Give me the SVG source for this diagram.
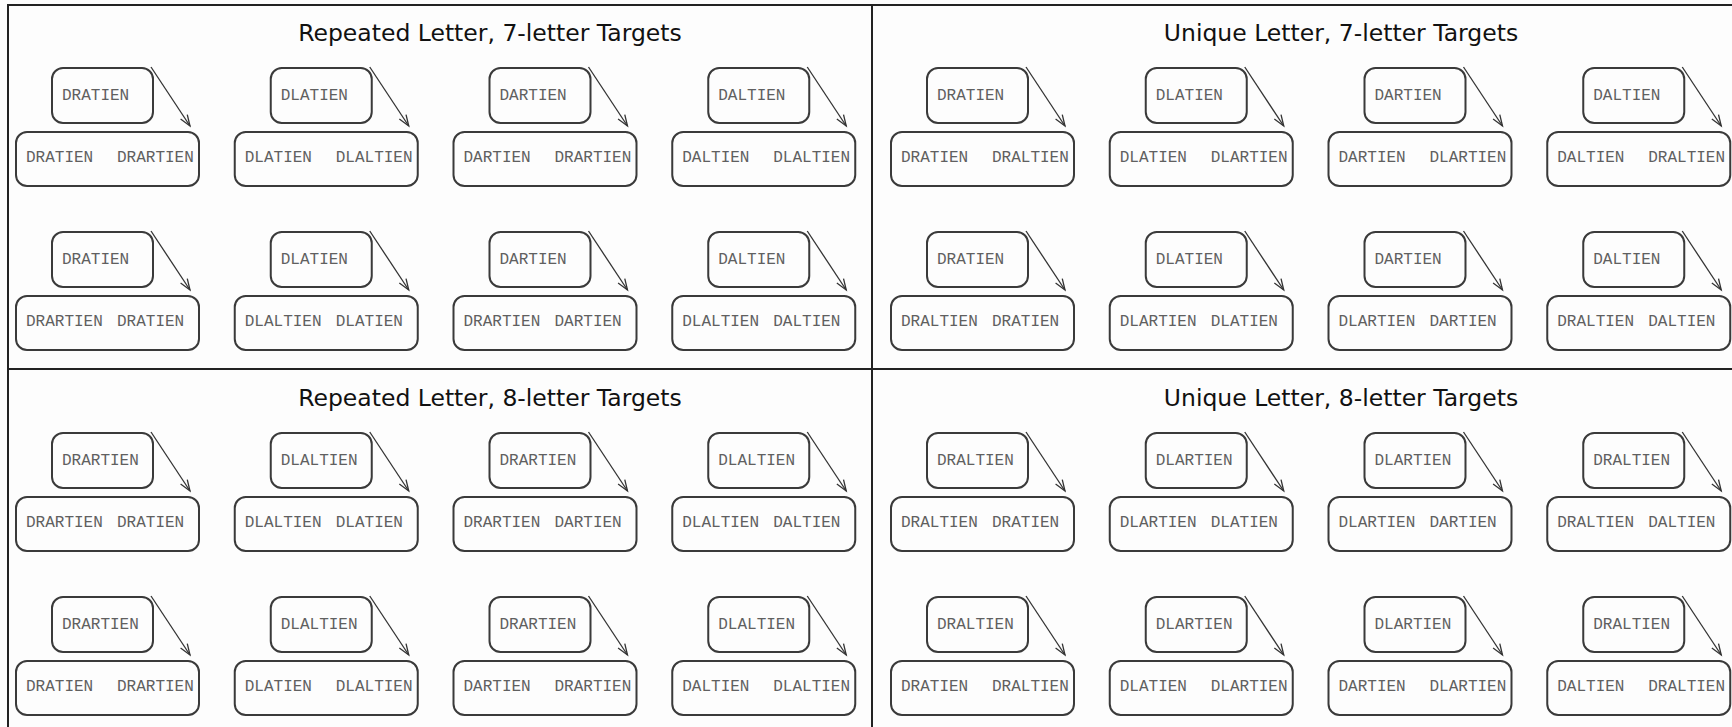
<svg xmlns="http://www.w3.org/2000/svg" width="1732" height="727" viewBox="0 0 1732 727">
<defs>
<style>
.bg{fill:#fdfdfd}
.frame{stroke:#222;stroke-width:2;fill:none}
.box{fill:none;stroke:#3a3a3a;stroke-width:2}
.lbl{font-family:"Liberation Mono","Courier New",monospace;font-size:16px;fill:#606060}
.title{font-family:"DejaVu Sans",Verdana,sans-serif;font-size:23.5px;fill:#111;text-anchor:middle}
.arr{stroke:#333;stroke-width:1.3;fill:none;marker-end:url(#ah)}
</style>
<marker id="ah" markerUnits="userSpaceOnUse" markerWidth="14" markerHeight="12" refX="12" refY="5" orient="auto" viewBox="0 0 14 12">
<path d="M1,1 L12,5 L1,9" fill="none" stroke="#333" stroke-width="1.3"/>
</marker>
</defs>
<rect class="bg" x="0" y="0" width="1732" height="727"/>
<g id="frame">
<path class="frame" d="M8,727 V5 H1732 M872,5 V727 M8,369 H1732"/>
</g>
<g id="titles">
<text class="title" x="490" y="41">Repeated Letter, 7-letter Targets</text>
<text class="title" x="1341" y="41">Unique Letter, 7-letter Targets</text>
<text class="title" x="490" y="406">Repeated Letter, 8-letter Targets</text>
<text class="title" x="1341" y="406">Unique Letter, 8-letter Targets</text>
</g>
<g id="connectors">
<line class="arr" x1="151" y1="67" x2="190" y2="126"/>
<line class="arr" x1="369.75" y1="67" x2="408.75" y2="126"/>
<line class="arr" x1="588.5" y1="67" x2="627.5" y2="126"/>
<line class="arr" x1="807.25" y1="67" x2="846.25" y2="126"/>
<line class="arr" x1="1026" y1="67" x2="1065" y2="126"/>
<line class="arr" x1="1244.75" y1="67" x2="1283.75" y2="126"/>
<line class="arr" x1="1463.5" y1="67" x2="1502.5" y2="126"/>
<line class="arr" x1="1682.25" y1="67" x2="1721.25" y2="126"/>
<line class="arr" x1="151" y1="231" x2="190" y2="290"/>
<line class="arr" x1="369.75" y1="231" x2="408.75" y2="290"/>
<line class="arr" x1="588.5" y1="231" x2="627.5" y2="290"/>
<line class="arr" x1="807.25" y1="231" x2="846.25" y2="290"/>
<line class="arr" x1="1026" y1="231" x2="1065" y2="290"/>
<line class="arr" x1="1244.75" y1="231" x2="1283.75" y2="290"/>
<line class="arr" x1="1463.5" y1="231" x2="1502.5" y2="290"/>
<line class="arr" x1="1682.25" y1="231" x2="1721.25" y2="290"/>
<line class="arr" x1="151" y1="432" x2="190" y2="491"/>
<line class="arr" x1="369.75" y1="432" x2="408.75" y2="491"/>
<line class="arr" x1="588.5" y1="432" x2="627.5" y2="491"/>
<line class="arr" x1="807.25" y1="432" x2="846.25" y2="491"/>
<line class="arr" x1="1026" y1="432" x2="1065" y2="491"/>
<line class="arr" x1="1244.75" y1="432" x2="1283.75" y2="491"/>
<line class="arr" x1="1463.5" y1="432" x2="1502.5" y2="491"/>
<line class="arr" x1="1682.25" y1="432" x2="1721.25" y2="491"/>
<line class="arr" x1="151" y1="596" x2="190" y2="655"/>
<line class="arr" x1="369.75" y1="596" x2="408.75" y2="655"/>
<line class="arr" x1="588.5" y1="596" x2="627.5" y2="655"/>
<line class="arr" x1="807.25" y1="596" x2="846.25" y2="655"/>
<line class="arr" x1="1026" y1="596" x2="1065" y2="655"/>
<line class="arr" x1="1244.75" y1="596" x2="1283.75" y2="655"/>
<line class="arr" x1="1463.5" y1="596" x2="1502.5" y2="655"/>
<line class="arr" x1="1682.25" y1="596" x2="1721.25" y2="655"/>
</g>
<!-- Row 0 -->
<g id="r0c0" transform="translate(16,68)"><g id="r0c0-src"><rect class="box" x="36" y="0" width="101" height="55" rx="11"/><text class="lbl" x="46" y="32">DRATIEN</text></g><g id="r0c0-tgt"><rect class="box" x="0" y="64" width="183" height="54" rx="11"/><text class="lbl" x="10" y="94">DRATIEN</text><text class="lbl" x="101" y="94">DRARTIEN</text></g></g>
<g id="r0c1" transform="translate(234.75,68)"><g id="r0c1-src"><rect class="box" x="36" y="0" width="101" height="55" rx="11"/><text class="lbl" x="46" y="32">DLATIEN</text></g><g id="r0c1-tgt"><rect class="box" x="0" y="64" width="183" height="54" rx="11"/><text class="lbl" x="10" y="94">DLATIEN</text><text class="lbl" x="101" y="94">DLALTIEN</text></g></g>
<g id="r0c2" transform="translate(453.5,68)"><g id="r0c2-src"><rect class="box" x="36" y="0" width="101" height="55" rx="11"/><text class="lbl" x="46" y="32">DARTIEN</text></g><g id="r0c2-tgt"><rect class="box" x="0" y="64" width="183" height="54" rx="11"/><text class="lbl" x="10" y="94">DARTIEN</text><text class="lbl" x="101" y="94">DRARTIEN</text></g></g>
<g id="r0c3" transform="translate(672.25,68)"><g id="r0c3-src"><rect class="box" x="36" y="0" width="101" height="55" rx="11"/><text class="lbl" x="46" y="32">DALTIEN</text></g><g id="r0c3-tgt"><rect class="box" x="0" y="64" width="183" height="54" rx="11"/><text class="lbl" x="10" y="94">DALTIEN</text><text class="lbl" x="101" y="94">DLALTIEN</text></g></g>
<g id="r0c4" transform="translate(891,68)"><g id="r0c4-src"><rect class="box" x="36" y="0" width="101" height="55" rx="11"/><text class="lbl" x="46" y="32">DRATIEN</text></g><g id="r0c4-tgt"><rect class="box" x="0" y="64" width="183" height="54" rx="11"/><text class="lbl" x="10" y="94">DRATIEN</text><text class="lbl" x="101" y="94">DRALTIEN</text></g></g>
<g id="r0c5" transform="translate(1109.75,68)"><g id="r0c5-src"><rect class="box" x="36" y="0" width="101" height="55" rx="11"/><text class="lbl" x="46" y="32">DLATIEN</text></g><g id="r0c5-tgt"><rect class="box" x="0" y="64" width="183" height="54" rx="11"/><text class="lbl" x="10" y="94">DLATIEN</text><text class="lbl" x="101" y="94">DLARTIEN</text></g></g>
<g id="r0c6" transform="translate(1328.5,68)"><g id="r0c6-src"><rect class="box" x="36" y="0" width="101" height="55" rx="11"/><text class="lbl" x="46" y="32">DARTIEN</text></g><g id="r0c6-tgt"><rect class="box" x="0" y="64" width="183" height="54" rx="11"/><text class="lbl" x="10" y="94">DARTIEN</text><text class="lbl" x="101" y="94">DLARTIEN</text></g></g>
<g id="r0c7" transform="translate(1547.25,68)"><g id="r0c7-src"><rect class="box" x="36" y="0" width="101" height="55" rx="11"/><text class="lbl" x="46" y="32">DALTIEN</text></g><g id="r0c7-tgt"><rect class="box" x="0" y="64" width="183" height="54" rx="11"/><text class="lbl" x="10" y="94">DALTIEN</text><text class="lbl" x="101" y="94">DRALTIEN</text></g></g>
<!-- Row 1 -->
<g id="r1c0" transform="translate(16,232)"><g id="r1c0-src"><rect class="box" x="36" y="0" width="101" height="55" rx="11"/><text class="lbl" x="46" y="32">DRATIEN</text></g><g id="r1c0-tgt"><rect class="box" x="0" y="64" width="183" height="54" rx="11"/><text class="lbl" x="10" y="94">DRARTIEN</text><text class="lbl" x="101" y="94">DRATIEN</text></g></g>
<g id="r1c1" transform="translate(234.75,232)"><g id="r1c1-src"><rect class="box" x="36" y="0" width="101" height="55" rx="11"/><text class="lbl" x="46" y="32">DLATIEN</text></g><g id="r1c1-tgt"><rect class="box" x="0" y="64" width="183" height="54" rx="11"/><text class="lbl" x="10" y="94">DLALTIEN</text><text class="lbl" x="101" y="94">DLATIEN</text></g></g>
<g id="r1c2" transform="translate(453.5,232)"><g id="r1c2-src"><rect class="box" x="36" y="0" width="101" height="55" rx="11"/><text class="lbl" x="46" y="32">DARTIEN</text></g><g id="r1c2-tgt"><rect class="box" x="0" y="64" width="183" height="54" rx="11"/><text class="lbl" x="10" y="94">DRARTIEN</text><text class="lbl" x="101" y="94">DARTIEN</text></g></g>
<g id="r1c3" transform="translate(672.25,232)"><g id="r1c3-src"><rect class="box" x="36" y="0" width="101" height="55" rx="11"/><text class="lbl" x="46" y="32">DALTIEN</text></g><g id="r1c3-tgt"><rect class="box" x="0" y="64" width="183" height="54" rx="11"/><text class="lbl" x="10" y="94">DLALTIEN</text><text class="lbl" x="101" y="94">DALTIEN</text></g></g>
<g id="r1c4" transform="translate(891,232)"><g id="r1c4-src"><rect class="box" x="36" y="0" width="101" height="55" rx="11"/><text class="lbl" x="46" y="32">DRATIEN</text></g><g id="r1c4-tgt"><rect class="box" x="0" y="64" width="183" height="54" rx="11"/><text class="lbl" x="10" y="94">DRALTIEN</text><text class="lbl" x="101" y="94">DRATIEN</text></g></g>
<g id="r1c5" transform="translate(1109.75,232)"><g id="r1c5-src"><rect class="box" x="36" y="0" width="101" height="55" rx="11"/><text class="lbl" x="46" y="32">DLATIEN</text></g><g id="r1c5-tgt"><rect class="box" x="0" y="64" width="183" height="54" rx="11"/><text class="lbl" x="10" y="94">DLARTIEN</text><text class="lbl" x="101" y="94">DLATIEN</text></g></g>
<g id="r1c6" transform="translate(1328.5,232)"><g id="r1c6-src"><rect class="box" x="36" y="0" width="101" height="55" rx="11"/><text class="lbl" x="46" y="32">DARTIEN</text></g><g id="r1c6-tgt"><rect class="box" x="0" y="64" width="183" height="54" rx="11"/><text class="lbl" x="10" y="94">DLARTIEN</text><text class="lbl" x="101" y="94">DARTIEN</text></g></g>
<g id="r1c7" transform="translate(1547.25,232)"><g id="r1c7-src"><rect class="box" x="36" y="0" width="101" height="55" rx="11"/><text class="lbl" x="46" y="32">DALTIEN</text></g><g id="r1c7-tgt"><rect class="box" x="0" y="64" width="183" height="54" rx="11"/><text class="lbl" x="10" y="94">DRALTIEN</text><text class="lbl" x="101" y="94">DALTIEN</text></g></g>
<!-- Row 2 -->
<g id="r2c0" transform="translate(16,433)"><g id="r2c0-src"><rect class="box" x="36" y="0" width="101" height="55" rx="11"/><text class="lbl" x="46" y="32">DRARTIEN</text></g><g id="r2c0-tgt"><rect class="box" x="0" y="64" width="183" height="54" rx="11"/><text class="lbl" x="10" y="94">DRARTIEN</text><text class="lbl" x="101" y="94">DRATIEN</text></g></g>
<g id="r2c1" transform="translate(234.75,433)"><g id="r2c1-src"><rect class="box" x="36" y="0" width="101" height="55" rx="11"/><text class="lbl" x="46" y="32">DLALTIEN</text></g><g id="r2c1-tgt"><rect class="box" x="0" y="64" width="183" height="54" rx="11"/><text class="lbl" x="10" y="94">DLALTIEN</text><text class="lbl" x="101" y="94">DLATIEN</text></g></g>
<g id="r2c2" transform="translate(453.5,433)"><g id="r2c2-src"><rect class="box" x="36" y="0" width="101" height="55" rx="11"/><text class="lbl" x="46" y="32">DRARTIEN</text></g><g id="r2c2-tgt"><rect class="box" x="0" y="64" width="183" height="54" rx="11"/><text class="lbl" x="10" y="94">DRARTIEN</text><text class="lbl" x="101" y="94">DARTIEN</text></g></g>
<g id="r2c3" transform="translate(672.25,433)"><g id="r2c3-src"><rect class="box" x="36" y="0" width="101" height="55" rx="11"/><text class="lbl" x="46" y="32">DLALTIEN</text></g><g id="r2c3-tgt"><rect class="box" x="0" y="64" width="183" height="54" rx="11"/><text class="lbl" x="10" y="94">DLALTIEN</text><text class="lbl" x="101" y="94">DALTIEN</text></g></g>
<g id="r2c4" transform="translate(891,433)"><g id="r2c4-src"><rect class="box" x="36" y="0" width="101" height="55" rx="11"/><text class="lbl" x="46" y="32">DRALTIEN</text></g><g id="r2c4-tgt"><rect class="box" x="0" y="64" width="183" height="54" rx="11"/><text class="lbl" x="10" y="94">DRALTIEN</text><text class="lbl" x="101" y="94">DRATIEN</text></g></g>
<g id="r2c5" transform="translate(1109.75,433)"><g id="r2c5-src"><rect class="box" x="36" y="0" width="101" height="55" rx="11"/><text class="lbl" x="46" y="32">DLARTIEN</text></g><g id="r2c5-tgt"><rect class="box" x="0" y="64" width="183" height="54" rx="11"/><text class="lbl" x="10" y="94">DLARTIEN</text><text class="lbl" x="101" y="94">DLATIEN</text></g></g>
<g id="r2c6" transform="translate(1328.5,433)"><g id="r2c6-src"><rect class="box" x="36" y="0" width="101" height="55" rx="11"/><text class="lbl" x="46" y="32">DLARTIEN</text></g><g id="r2c6-tgt"><rect class="box" x="0" y="64" width="183" height="54" rx="11"/><text class="lbl" x="10" y="94">DLARTIEN</text><text class="lbl" x="101" y="94">DARTIEN</text></g></g>
<g id="r2c7" transform="translate(1547.25,433)"><g id="r2c7-src"><rect class="box" x="36" y="0" width="101" height="55" rx="11"/><text class="lbl" x="46" y="32">DRALTIEN</text></g><g id="r2c7-tgt"><rect class="box" x="0" y="64" width="183" height="54" rx="11"/><text class="lbl" x="10" y="94">DRALTIEN</text><text class="lbl" x="101" y="94">DALTIEN</text></g></g>
<!-- Row 3 -->
<g id="r3c0" transform="translate(16,597)"><g id="r3c0-src"><rect class="box" x="36" y="0" width="101" height="55" rx="11"/><text class="lbl" x="46" y="32">DRARTIEN</text></g><g id="r3c0-tgt"><rect class="box" x="0" y="64" width="183" height="54" rx="11"/><text class="lbl" x="10" y="94">DRATIEN</text><text class="lbl" x="101" y="94">DRARTIEN</text></g></g>
<g id="r3c1" transform="translate(234.75,597)"><g id="r3c1-src"><rect class="box" x="36" y="0" width="101" height="55" rx="11"/><text class="lbl" x="46" y="32">DLALTIEN</text></g><g id="r3c1-tgt"><rect class="box" x="0" y="64" width="183" height="54" rx="11"/><text class="lbl" x="10" y="94">DLATIEN</text><text class="lbl" x="101" y="94">DLALTIEN</text></g></g>
<g id="r3c2" transform="translate(453.5,597)"><g id="r3c2-src"><rect class="box" x="36" y="0" width="101" height="55" rx="11"/><text class="lbl" x="46" y="32">DRARTIEN</text></g><g id="r3c2-tgt"><rect class="box" x="0" y="64" width="183" height="54" rx="11"/><text class="lbl" x="10" y="94">DARTIEN</text><text class="lbl" x="101" y="94">DRARTIEN</text></g></g>
<g id="r3c3" transform="translate(672.25,597)"><g id="r3c3-src"><rect class="box" x="36" y="0" width="101" height="55" rx="11"/><text class="lbl" x="46" y="32">DLALTIEN</text></g><g id="r3c3-tgt"><rect class="box" x="0" y="64" width="183" height="54" rx="11"/><text class="lbl" x="10" y="94">DALTIEN</text><text class="lbl" x="101" y="94">DLALTIEN</text></g></g>
<g id="r3c4" transform="translate(891,597)"><g id="r3c4-src"><rect class="box" x="36" y="0" width="101" height="55" rx="11"/><text class="lbl" x="46" y="32">DRALTIEN</text></g><g id="r3c4-tgt"><rect class="box" x="0" y="64" width="183" height="54" rx="11"/><text class="lbl" x="10" y="94">DRATIEN</text><text class="lbl" x="101" y="94">DRALTIEN</text></g></g>
<g id="r3c5" transform="translate(1109.75,597)"><g id="r3c5-src"><rect class="box" x="36" y="0" width="101" height="55" rx="11"/><text class="lbl" x="46" y="32">DLARTIEN</text></g><g id="r3c5-tgt"><rect class="box" x="0" y="64" width="183" height="54" rx="11"/><text class="lbl" x="10" y="94">DLATIEN</text><text class="lbl" x="101" y="94">DLARTIEN</text></g></g>
<g id="r3c6" transform="translate(1328.5,597)"><g id="r3c6-src"><rect class="box" x="36" y="0" width="101" height="55" rx="11"/><text class="lbl" x="46" y="32">DLARTIEN</text></g><g id="r3c6-tgt"><rect class="box" x="0" y="64" width="183" height="54" rx="11"/><text class="lbl" x="10" y="94">DARTIEN</text><text class="lbl" x="101" y="94">DLARTIEN</text></g></g>
<g id="r3c7" transform="translate(1547.25,597)"><g id="r3c7-src"><rect class="box" x="36" y="0" width="101" height="55" rx="11"/><text class="lbl" x="46" y="32">DRALTIEN</text></g><g id="r3c7-tgt"><rect class="box" x="0" y="64" width="183" height="54" rx="11"/><text class="lbl" x="10" y="94">DALTIEN</text><text class="lbl" x="101" y="94">DRALTIEN</text></g></g>
</svg>
